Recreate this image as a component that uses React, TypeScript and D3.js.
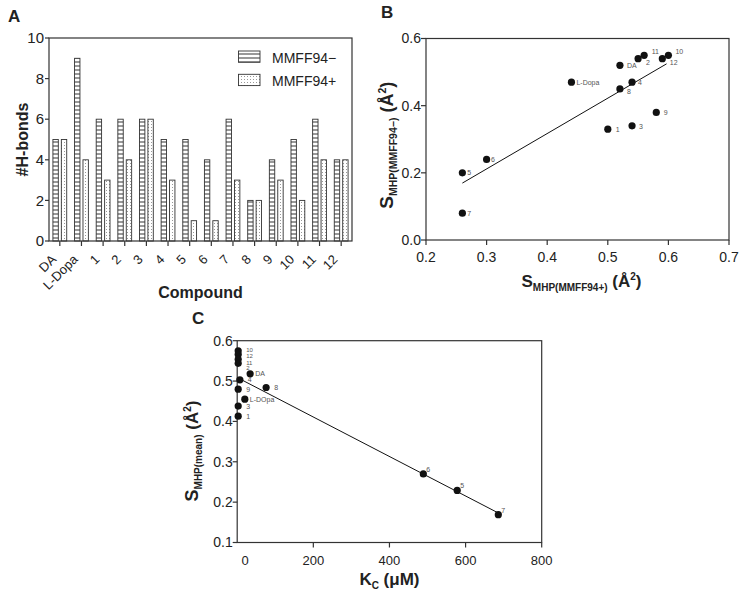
import React from "react";
import * as d3 from "d3";

// ---------- Panel A data ----------
const compounds = ["DA", "L-Dopa", "1", "2", "3", "4", "5", "6", "7", "8", "9", "10", "11", "12"];
const seriesNames = ["MMFF94−", "MMFF94+"];
const hbondsMinus = [5, 9, 6, 6, 6, 5, 5, 4, 6, 2, 4, 5, 6, 4];
const hbondsPlus = [5, 4, 3, 4, 6, 3, 1, 1, 3, 2, 3, 2, 4, 4];
const hbondTicks = [0, 2, 4, 6, 8, 10];

// ---------- Panel B data ----------
const labelsB = ["DA", "L-Dopa", "1", "2", "3", "4", "5", "6", "7", "8", "9", "10", "11", "12"];
const sPlusB = [0.52, 0.44, 0.5, 0.55, 0.54, 0.54, 0.26, 0.3, 0.26, 0.52, 0.58, 0.6, 0.56, 0.59];
const sMinusB = [0.52, 0.47, 0.33, 0.54, 0.34, 0.47, 0.2, 0.24, 0.08, 0.45, 0.38, 0.55, 0.55, 0.54];
const ticksBx = [0.2, 0.3, 0.4, 0.5, 0.6, 0.7];
const ticksBy = [0.0, 0.2, 0.4, 0.6];
const fitRangeB = [0.26, 0.597];

// ---------- Panel C data ----------
const labelsC = ["10", "12", "11", "2", "DA", "4", "8", "9", "L-DOpa", "3", "1", "6", "5", "7"];
const kcC = [0, 0, 0, 0, 34, 7, 76, 0, 20, 0, 0, 489, 578, 686];
const sMeanC = [0.575, 0.566, 0.554, 0.544, 0.518, 0.503, 0.484, 0.48, 0.455, 0.438, 0.413, 0.27, 0.229, 0.169];
const ticksCx = [0, 200, 400, 600, 800];
const ticksCy = [0.1, 0.2, 0.3, 0.4, 0.5, 0.6];
const fitRangeC = [10, 690];

// label placement hints (style)
const labelShiftB: Record<string, [number, number]> = {
  DA: [7, 3], "L-Dopa": [5, 2.5], "1": [8, 3], "2": [8, 6], "3": [7, 3], "4": [6, 2.5],
  "5": [5, 2.5], "6": [4.5, 2.5], "7": [5, 2.5], "8": [7, 5], "9": [7.5, 2.5],
  "10": [7, -1], "11": [7.5, -1], "12": [7.5, 6],
};
const labelShiftC: Record<string, [number, number]> = {
  "10": [8, 1], "12": [8, 4], "11": [8, 5.5], "2": [8, 7], DA: [5, 2.5], "4": [8, 2],
  "8": [8, 2.5], "9": [8, 3], "L-DOpa": [5, 2.5], "3": [8, 2.5], "1": [8, 3],
  "6": [3, -2], "5": [3, -2], "7": [3, -1.5],
};

function linFit(xs: number[], ys: number[]) {
  const mx = d3.mean(xs) as number;
  const my = d3.mean(ys) as number;
  let sxy = 0, sxx = 0;
  xs.forEach((x, i) => { sxy += (x - mx) * (ys[i] - my); sxx += (x - mx) * (x - mx); });
  const slope = sxy / sxx;
  return (x: number) => my + slope * (x - mx);
}

const FONT = "'Liberation Sans', Arial, Helvetica, sans-serif";
const AX = "#333";
const TXT = "#222";

function PanelA() {
  const x0 = 49, x1 = 352, yTop = 38, yBot = 241;
  const xA = d3.scaleBand<string>().domain(compounds).range([x0, x1]).padding(0);
  const yA = d3.scaleLinear().domain([0, 10]).range([yBot, yTop]);
  const inner = d3.scaleBand<string>().domain(seriesNames).range([-6.9, 6.9]).paddingInner(0.36);
  const series = [hbondsMinus, hbondsPlus];
  const fills = ["url(#hstripe)", "url(#dots)"];
  return (
    <g>
      <text x={8} y={22} fontSize={17} fontWeight="bold" fill={TXT}>A</text>
      {compounds.map((c, i) =>
        series.map((vals, s) => {
          const cx = (xA(c) as number) + xA.bandwidth() / 2;
          return (
            <rect key={c + s} x={cx + (inner(seriesNames[s]) as number)} y={yA(vals[i])}
              width={inner.bandwidth()} height={yA(0) - yA(vals[i])}
              fill={fills[s]} stroke="#333" strokeWidth={0.9} />
          );
        })
      )}
      <rect x={x0} y={yTop} width={x1 - x0} height={yBot - yTop} fill="none" stroke={AX} strokeWidth={1.2} />
      {hbondTicks.map((t) => (
        <g key={t}>
          <line x1={x0 - 4} x2={x0} y1={yA(t)} y2={yA(t)} stroke={AX} strokeWidth={1.2} />
          <text x={x0 - 5} y={yA(t)} dy="0.35em" textAnchor="end" fontSize={15} fill={TXT}>{t}</text>
        </g>
      ))}
      {compounds.map((c) => {
        const cx = (xA(c) as number) + xA.bandwidth() / 2;
        return (
          <g key={c}>
            <line x1={cx} x2={cx} y1={yBot} y2={yBot + 5} stroke={AX} strokeWidth={1.2} />
            <g transform={`translate(${cx - 6},${yBot + 16}) rotate(-45)`}>
              <text x={0} y={0} dy="0.35em" textAnchor="end" fontSize={13} fill={TXT}>{c}</text>
            </g>
          </g>
        );
      })}
      <text transform={`translate(22,${(yTop + yBot) / 2}) rotate(-90)`} dy="0.35em" textAnchor="middle"
        fontSize={16} fontWeight="bold" fill={TXT}>#H-bonds</text>
      <text x={(x0 + x1) / 2} y={298} textAnchor="middle" fontSize={16} fontWeight="bold" fill={TXT}>Compound</text>
      {seriesNames.map((s, k) => (
        <g key={s}>
          <rect x={238.5} y={51 + k * 23.3} width={21.5} height={11.3} fill={fills[k]} stroke="#333" strokeWidth={0.9} />
          <text x={272} y={62.5 + k * 23.3} fontSize={14} fill={TXT}>{s}</text>
        </g>
      ))}
    </g>
  );
}

function PanelB() {
  const x0 = 426, x1 = 729, yTop = 38.5, yBot = 240;
  const xB = d3.scaleLinear().domain([0.2, 0.7]).range([x0, x1]);
  const yB = d3.scaleLinear().domain([0, 0.6]).range([yBot, yTop]);
  const fit = linFit(sPlusB, sMinusB);
  const line = d3.line<number>().x((d) => xB(d)).y((d) => yB(fit(d)));
  return (
    <g>
      <text x={381} y={18} fontSize={17} fontWeight="bold" fill={TXT}>B</text>
      <rect x={x0} y={yTop} width={x1 - x0} height={yBot - yTop} fill="none" stroke={AX} strokeWidth={1.2} />
      {ticksBx.map((t) => (
        <g key={t}>
          <line x1={xB(t)} x2={xB(t)} y1={yBot} y2={yBot + 5} stroke={AX} strokeWidth={1.2} />
          <text x={xB(t)} y={262} textAnchor="middle" fontSize={14} fill={TXT}>{d3.format(".1f")(t)}</text>
        </g>
      ))}
      {ticksBy.map((t) => (
        <g key={t}>
          <line x1={x0 - 5} x2={x0} y1={yB(t)} y2={yB(t)} stroke={AX} strokeWidth={1.2} />
          <text x={x0 - 5} y={yB(t)} dy="0.35em" textAnchor="end" fontSize={14} fill={TXT}>{d3.format(".1f")(t)}</text>
        </g>
      ))}
      <path d={line(fitRangeB) as string} fill="none" stroke="#111" strokeWidth={1} />
      {labelsB.map((l, i) => {
        const px = xB(sPlusB[i]), py = yB(sMinusB[i]);
        const sh = labelShiftB[l] || [6, 2.5];
        return (
          <g key={l}>
            <circle cx={px} cy={py} r={3.6} fill="#111" />
            <text x={px + sh[0]} y={py + sh[1]} fontSize={7} fill="#555">{l}</text>
          </g>
        );
      })}
      <text x={(x0 + x1) / 2 + 4} y={286.5} textAnchor="middle" fontWeight="bold" fill={TXT}>
        <tspan fontSize={17}>S</tspan>
        <tspan fontSize={10} dy={4}>MHP(MMFF94+)</tspan>
        <tspan fontSize={17} dy={-4}> (Å</tspan>
        <tspan fontSize={10} dy={-7}>2</tspan>
        <tspan fontSize={17} dy={7}>)</tspan>
      </text>
      <text transform={`translate(393,${(yTop + yBot) / 2 + 6}) rotate(-90)`} textAnchor="middle" fontWeight="bold" fill={TXT}>
        <tspan fontSize={19}>S</tspan>
        <tspan fontSize={10.5} dy={4}>MHP(MMFF94−)</tspan>
        <tspan fontSize={18} dy={-4}> (Å</tspan>
        <tspan fontSize={10.5} dy={-7}>2</tspan>
        <tspan fontSize={18} dy={7}>)</tspan>
      </text>
    </g>
  );
}

function PanelC() {
  const x0 = 237.2, x1 = 541.7, yTop = 340.7, yBot = 542.5;
  const xC = d3.scaleLinear().domain([0, 800]).range([x0, x1]);
  const yC = d3.scaleLinear().domain([0.1, 0.6]).range([yBot, yTop]);
  const fit = linFit(kcC, sMeanC);
  const line = d3.line<number>().x((d) => xC(d)).y((d) => yC(fit(d)));
  return (
    <g>
      <text x={192} y={324} fontSize={17} fontWeight="bold" fill={TXT}>C</text>
      <rect x={x0} y={yTop} width={x1 - x0} height={yBot - yTop} fill="none" stroke={AX} strokeWidth={1.2} />
      {ticksCx.map((t) => (
        <g key={t}>
          {t !== 0 && <line x1={xC(t)} x2={xC(t)} y1={yBot} y2={yBot + 5} stroke={AX} strokeWidth={1.2} />}
          <text x={xC(t) + (t === 0 ? 8 : 0)} y={565} textAnchor="middle" fontSize={13} fill={TXT}>{t}</text>
        </g>
      ))}
      {ticksCy.map((t) => (
        <g key={t}>
          <line x1={x0 - 4.5} x2={x0} y1={yC(t)} y2={yC(t)} stroke={AX} strokeWidth={1.2} />
          <text x={x0 - 4.5} y={yC(t)} dy="0.35em" textAnchor="end" fontSize={14} fill={TXT}>{d3.format(".1f")(t)}</text>
        </g>
      ))}
      <path d={line(fitRangeC) as string} fill="none" stroke="#111" strokeWidth={1} />
      {labelsC.map((l, i) => {
        const px = xC(kcC[i]) + (kcC[i] === 0 ? 1 : 0), py = yC(sMeanC[i]);
        const sh = labelShiftC[l] || [6, 2.5];
        return (
          <g key={l}>
            <circle cx={px} cy={py} r={3.6} fill="#111" />
            <text x={px + sh[0]} y={py + sh[1]} fontSize={kcC[i] === 0 && sMeanC[i] > 0.54 ? 6 : 7} fill="#555">{l}</text>
          </g>
        );
      })}
      <text x={(x0 + x1) / 2} y={585} textAnchor="middle" fontWeight="bold" fill={TXT}>
        <tspan fontSize={17}>K</tspan>
        <tspan fontSize={10} dy={4}>C</tspan>
        <tspan fontSize={17} dy={-4}> (μM)</tspan>
      </text>
      <text transform={`translate(198,451) rotate(-90)`} textAnchor="middle" fontWeight="bold" fill={TXT}>
        <tspan fontSize={18}>S</tspan>
        <tspan fontSize={10} dy={4}>MHP(mean)</tspan>
        <tspan fontSize={17} dy={-4}> (Å</tspan>
        <tspan fontSize={10} dy={-7}>2</tspan>
        <tspan fontSize={17} dy={7}>)</tspan>
      </text>
    </g>
  );
}

export default function App() {
  return (
    <svg width={747} height={601} viewBox="0 0 747 601"
      style={{ position: "absolute", left: 0, top: 0, background: "#fff" }}
      fontFamily={FONT}>
      <defs>
        <pattern id="hstripe" width={4} height={4} patternUnits="userSpaceOnUse">
          <rect width={4} height={4} fill="#fff" />
          <line x1={0} x2={4} y1={2} y2={2} stroke="#333" strokeWidth={1} />
        </pattern>
        <pattern id="dots" width={3} height={3} patternUnits="userSpaceOnUse">
          <rect width={3} height={3} fill="#fff" />
          <rect x={1} y={1} width={1} height={1} fill="#999" />
        </pattern>
      </defs>
      <rect width={747} height={601} fill="#fff" />
      <PanelA />
      <PanelB />
      <PanelC />
    </svg>
  );
}
